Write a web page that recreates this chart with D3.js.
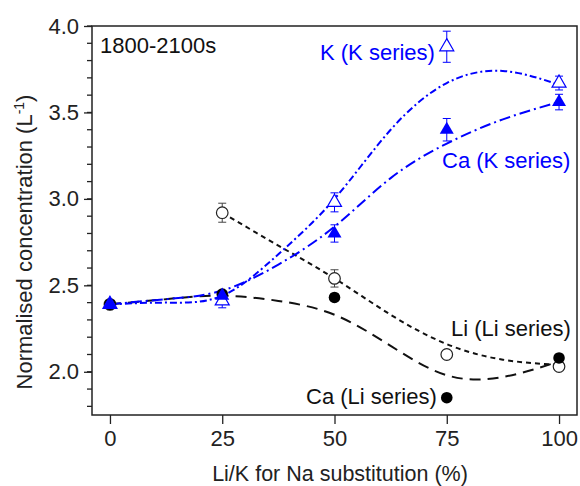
<!DOCTYPE html>
<html>
<head>
<meta charset="utf-8">
<script src="https://d3js.org/d3.v7.min.js"></script>
<style>
  body { margin: 0; background: #fff; }
  text { font-family: Arial, "Liberation Sans", sans-serif; }
</style>
</head>
<body>
<div id="chart"></div>
<script>
// measured points (substitution %, normalised concentration, error)
const subst = [0, 25, 50, 75, 100];
const liLi = [2.39, 2.92, 2.54, 2.10, 2.03];
const liLiErr = [0.02, 0.055, 0.05, 0.01, 0.01];
const caLi = [2.39, 2.45, 2.43, 1.85, 2.08];
const caLiErr = [0.01, 0.01, 0.01, 0.01, 0.01];
const kK = [2.39, 2.41, 2.98, 3.88, 3.67];
const kKErr = [0.02, 0.04, 0.055, 0.09, 0.04];
const caK = [2.39, 2.44, 2.80, 3.40, 3.56];
const caKErr = [0.02, 0.02, 0.05, 0.065, 0.045];

// fitted curves
const fitX = [0, 12.5, 25, 37.5, 50, 62.5, 75, 87.5, 100];
const liFitX = [25, 37.5, 50, 62.5, 75, 87.5, 100];
const liFit = [2.92, 2.73, 2.54, 2.33, 2.16, 2.07, 2.04];
const caLiFit = [2.39, 2.42, 2.44, 2.41, 2.33, 2.15, 1.98, 1.97, 2.06];
const kKFit = [2.39, 2.40, 2.44, 2.68, 3.00, 3.40, 3.67, 3.74, 3.66];
const caKFit = [2.39, 2.42, 2.47, 2.62, 2.84, 3.12, 3.32, 3.46, 3.56];

const xTicks = [0, 25, 50, 75, 100];
const yTicks = [2.0, 2.5, 3.0, 3.5, 4.0];
const yMinor = d3.range(1.8, 4.0001, 0.1);

const W = 580, H = 486;
const margin = { top: 26, right: 3, bottom: 71, left: 92 };

const svg = d3.select("#chart").append("svg")
    .attr("width", W)
    .attr("height", H);

const x = d3.scaleLinear().domain([-4, 104]).range([margin.left, W - margin.right]);
const y = d3.scaleLinear().domain([1.75, 4.0]).range([H - margin.bottom, margin.top]);

const blue = "#0000ff";

// frame
svg.append("rect")
    .attr("x", x(-4)).attr("y", y(4))
    .attr("width", x(104) - x(-4))
    .attr("height", y(1.75) - y(4))
    .attr("fill", "none")
    .attr("stroke", "#222")
    .attr("stroke-width", 1.5);

// y axis
const yAxis = svg.append("g")
    .attr("transform", "translate(" + x(-4) + ",0)")
    .call(d3.axisLeft(y).tickValues(yTicks).tickSize(8).tickPadding(5).tickFormat(d3.format(".1f")));
yAxis.append("g").selectAll("line")
    .data(yMinor)
    .enter().append("line")
    .attr("x1", -5).attr("x2", 0)
    .attr("y1", d => y(d)).attr("y2", d => y(d))
    .attr("stroke", "#222");

// x axis
const xAxis = svg.append("g")
    .attr("transform", "translate(0," + y(1.75) + ")")
    .call(d3.axisBottom(x).tickValues(xTicks).tickSize(9).tickPadding(6));

[xAxis, yAxis].forEach(a => {
    a.select(".domain").remove();
    a.selectAll("line").attr("stroke", "#222").attr("stroke-width", 1.3);
    a.selectAll("text").style("font-size", "22px").attr("fill", "#222")
        .style("font-family", "Arial, 'Liberation Sans', sans-serif");
});

// axis titles
svg.append("text")
    .attr("x", 340)
    .attr("y", 481)
    .attr("text-anchor", "middle")
    .style("font-size", "21.5px")
    .attr("fill", "#222")
    .text("Li/K for Na substitution (%)");

const yTitle = svg.append("text")
    .attr("transform", "translate(32,242) rotate(-90)")
    .attr("text-anchor", "middle")
    .style("font-size", "22px")
    .attr("fill", "#222");
yTitle.append("tspan").text("Normalised concentration (L");
yTitle.append("tspan").attr("dy", -8).style("font-size", "14px").text("-1");
yTitle.append("tspan").attr("dy", 8).text(")");

// fit curves
const line = d3.line()
    .x(d => x(d[0]))
    .y(d => y(d[1]))
    .curve(d3.curveNatural);

function fit(xs, ys, color, dash) {
    svg.append("path")
        .datum(xs.map((v, i) => [v, ys[i]]))
        .attr("d", line)
        .attr("fill", "none")
        .attr("stroke", color)
        .attr("stroke-width", 2)
        .attr("stroke-dasharray", dash);
}

fit(liFitX, liFit, "#111", "5,4");
fit(fitX, caLiFit, "#111", "11,7");
fit(fitX, kKFit, blue, "7,3,2,3");
fit(fitX, caKFit, blue, "11,4,2,4");

// error bars
function errors(vals, errs, color) {
    const g = svg.append("g").attr("stroke", color).attr("stroke-width", 1);
    subst.forEach((s, i) => {
        const cx = x(s), lo = y(vals[i] - errs[i]), hi = y(vals[i] + errs[i]);
        g.append("line").attr("x1", cx).attr("x2", cx).attr("y1", lo).attr("y2", hi);
        g.append("line").attr("x1", cx - 4).attr("x2", cx + 4).attr("y1", lo).attr("y2", lo);
        g.append("line").attr("x1", cx - 4).attr("x2", cx + 4).attr("y1", hi).attr("y2", hi);
    });
}

errors(liLi, liLiErr, "#444");
errors(kK, kKErr, blue);
errors(caK, caKErr, blue);

// markers
const tri = d3.symbol().type(d3.symbolTriangle).size(85);

svg.append("g").selectAll("circle")
    .data(subst)
    .enter().append("circle")
    .attr("cx", d => x(d))
    .attr("cy", (d, i) => y(liLi[i]))
    .attr("r", 5.8)
    .attr("fill", "#fff")
    .attr("stroke", "#222")
    .attr("stroke-width", 1.2);

svg.append("g").selectAll("circle")
    .data(subst)
    .enter().append("circle")
    .attr("cx", d => x(d))
    .attr("cy", (d, i) => y(caLi[i]))
    .attr("r", 5.8)
    .attr("fill", "#000");

svg.append("g").selectAll("path")
    .data(subst)
    .enter().append("path")
    .attr("d", tri)
    .attr("transform", (d, i) => "translate(" + x(d) + "," + y(kK[i]) + ")")
    .attr("fill", "#fff")
    .attr("stroke", blue)
    .attr("stroke-width", 1.2);

svg.append("g").selectAll("path")
    .data(subst)
    .enter().append("path")
    .attr("d", tri)
    .attr("transform", (d, i) => "translate(" + x(d) + "," + y(caK[i]) + ")")
    .attr("fill", blue);

// labels
const labels = [
    { t: "1800-2100s", x: 100, y: 53, c: "#111" },
    { t: "K (K series)", x: 320, y: 60, c: blue },
    { t: "Ca (K series)", x: 442, y: 168, c: blue },
    { t: "Li (Li series)", x: 451, y: 336, c: "#111" },
    { t: "Ca (Li series)", x: 306, y: 404, c: "#111" }
];
svg.append("g").selectAll("text")
    .data(labels)
    .enter().append("text")
    .attr("x", d => d.x)
    .attr("y", d => d.y)
    .attr("fill", d => d.c)
    .style("font-size", "22px")
    .text(d => d.t);
</script>
</body>
</html>
